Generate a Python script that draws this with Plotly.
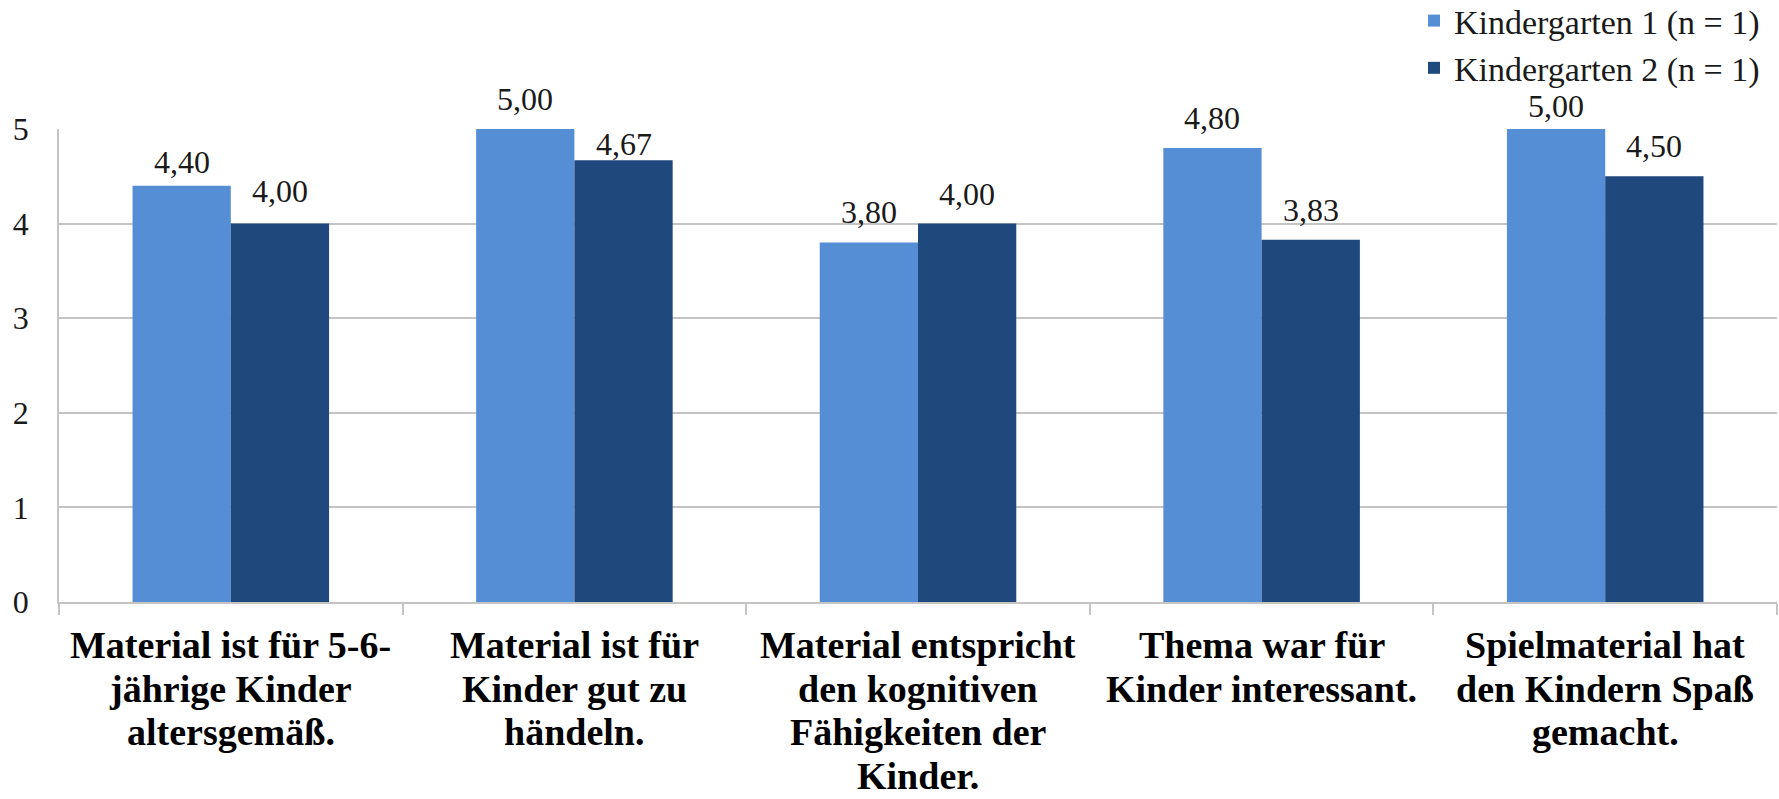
import plotly.graph_objects as go

# Survey items (line breaks mark the wrapping of each label)
categories = [
    "Material ist für 5-6-<br>jährige Kinder<br>altersgemäß.",
    "Material ist für<br>Kinder gut zu<br>händeln.",
    "Material entspricht<br>den kognitiven<br>Fähigkeiten der<br>Kinder.",
    "Thema war für<br>Kinder interessant.",
    "Spielmaterial hat<br>den Kindern Spaß<br>gemacht.",
]
series_names = ["Kindergarten 1 (n = 1)", "Kindergarten 2 (n = 1)"]
kiga1_values = [4.40, 5.00, 3.80, 4.80, 5.00]
kiga2_values = [4.00, 4.67, 4.00, 3.83, 4.50]
y_ticks = [0, 1, 2, 3, 4, 5]

# Pixel lift of each value label's baseline above its bar top
kiga1_label_lift = [13, 19, 20, 19, 12]
kiga2_label_lift = [22, 5, 19, 19, 19]

colors = ["#558ED5", "#1F497D"]
FONT = "Liberation Serif, Times New Roman, serif"
TEXT = "#1a1a1a"
GRID = "#C4C4C4"

W, H = 1779, 799
M_L, M_R, M_T, M_B = 59, 2, 129, 197
BARGAP = 0.428
LABEL_SIZE = 32

fig = go.Figure()
for name, vals, col in zip(series_names, [kiga1_values, kiga2_values], colors):
    fig.add_trace(go.Bar(
        name=name,
        x=categories,
        y=vals,
        marker=dict(color=col, line=dict(width=0)),
        hovertemplate="%{y:.2f}<extra>" + name + "</extra>",
    ))

annotations = []

# Value labels above the bars (centred on each bar of the group)
cat_px = (W - M_L - M_R) / len(categories)
bar_px = cat_px * (1 - BARGAP) / 2
for k, (vals, lifts) in enumerate(zip([kiga1_values, kiga2_values],
                                      [kiga1_label_lift, kiga2_label_lift])):
    xshift = (k - 0.5) * bar_px
    for cat, v, lift in zip(categories, vals, lifts):
        annotations.append(dict(
            x=cat, xref="x", y=v, yref="y",
            xshift=xshift, yshift=lift + 0.34 * LABEL_SIZE,
            text=f"{v:.2f}".replace(".", ","),
            showarrow=False, xanchor="center", yanchor="middle",
            font=dict(family=FONT, size=LABEL_SIZE, color=TEXT),
        ))

# Category labels, one annotation per wrapped line
LINE_STEP = 43.7
FIRST_CENTER = 645  # pixel row of the first label line
for cat in categories:
    for i, line in enumerate(cat.split("<br>")):
        center_px = FIRST_CENTER + i * LINE_STEP
        annotations.append(dict(
            x=cat, xref="x", y=0, yref="paper",
            yshift=(H - M_B) - center_px,
            text=line, showarrow=False,
            xanchor="center", yanchor="middle",
            font=dict(family=FONT, size=38, color="#000000", weight="bold"),
        ))

# Legend box placed in the top-right corner above the plot area
plot_w = W - M_L - M_R
plot_h = H - M_T - M_B
legend_left_px, legend_top_px = 1414, -8
legend_x = (legend_left_px - M_L) / plot_w
legend_y = (H - M_B - legend_top_px) / plot_h

fig.update_layout(
    width=W, height=H,
    margin=dict(l=M_L, r=M_R, t=M_T, b=M_B, pad=0, autoexpand=False),
    paper_bgcolor="white", plot_bgcolor="white",
    separators=",.",
    barmode="group", bargap=BARGAP, bargroupgap=0,
    font=dict(family=FONT, color=TEXT),
    showlegend=True,
    legend=dict(
        xref="paper", yref="paper",
        x=legend_x, y=legend_y, xanchor="left", yanchor="top",
        font=dict(family=FONT, size=34, color=TEXT),
        bgcolor="rgba(0,0,0,0)", borderwidth=0,
        itemwidth=30, tracegroupgap=0,
    ),
    annotations=annotations,
    xaxis=dict(
        showticklabels=False,
        showline=True, linecolor=GRID, linewidth=1.5,
        ticks="outside", tickson="boundaries", ticklen=11,
        tickcolor=GRID, tickwidth=1.5,
        showgrid=False, zeroline=False,
    ),
    yaxis=dict(
        range=[0, 5], tickvals=y_ticks,
        tickfont=dict(family=FONT, size=32, color=TEXT),
        showline=True, linecolor=GRID, linewidth=1.5,
        showgrid=True, gridcolor=GRID, gridwidth=1.5,
        zeroline=False, ticks="", ticklabelstandoff=22,
    ),
)

fig.write_html("out.html")
